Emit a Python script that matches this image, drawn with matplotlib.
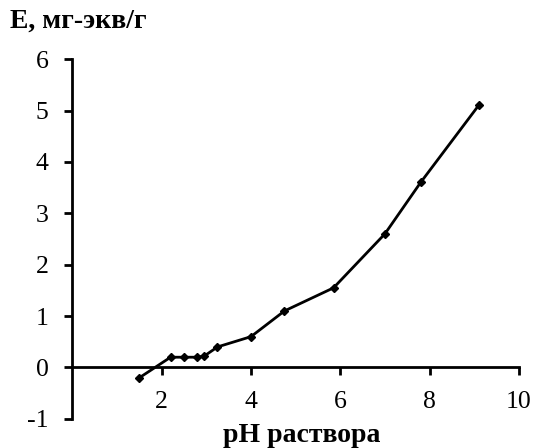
import matplotlib
matplotlib.use("Agg")
import matplotlib.pyplot as plt

ph = [1.5, 2.2, 2.5, 2.8, 2.95, 3.25, 4.0, 4.75, 5.85, 7.0, 7.8, 9.1]
E = [-0.2, 0.2, 0.2, 0.2, 0.22, 0.4, 0.6, 1.1, 1.55, 2.6, 3.6, 5.1]
xticks = [2, 4, 6, 8, 10]
yticks = [-1, 0, 1, 2, 3, 4, 5, 6]

plt.rcParams['font.family'] = ['Liberation Serif', 'DejaVu Serif']
plt.rcParams['axes.unicode_minus'] = False

fig = plt.figure(figsize=(5.36, 4.48), dpi=100)
ax = fig.add_axes([0.135, 0.065, 0.833, 0.803])
ax.plot(ph, E, color='black', lw=2.0, marker='D', ms=3.8, mfc='black', mec='black')
ax.set_xlim(0, 10)
ax.set_ylim(-1, 6)
ax.spines['top'].set_visible(False)
ax.spines['right'].set_visible(False)
ax.spines['bottom'].set_position(('data', 0))
for s in ('left', 'bottom'):
    ax.spines[s].set_linewidth(2.0)
ax.set_xticks(xticks)
ax.set_yticks(yticks)
ax.tick_params(axis='both', direction='out', length=6, width=2.0, labelsize=18.5)
ax.tick_params(axis='y', pad=11)
ax.tick_params(axis='x', pad=11)
fig.text(0.018, 0.953, 'E, мг-экв/г', fontsize=20, fontweight='bold', ha='left', va='center')
fig.text(0.563, 0.027, 'pH раствора', fontsize=20, fontweight='bold', ha='center', va='center')
fig.savefig('out.png', dpi=100)
